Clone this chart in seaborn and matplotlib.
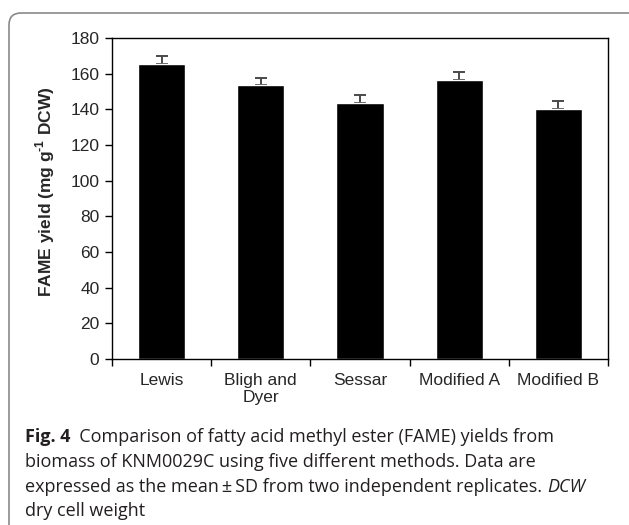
import numpy as np
import pandas as pd
import matplotlib
matplotlib.use("Agg")
import matplotlib.pyplot as plt
from matplotlib.patches import FancyBboxPatch
from matplotlib.transforms import IdentityTransform
import seaborn as sns

#### Données
methods = ["Lewis", "Bligh and\nDyer", "Sessar", "Modified A", "Modified B"]
fame_yield = [165.5, 153.5, 143.5, 156.5, 140.0]
fame_sd = [4.3, 4.3, 4.3, 4.5, 4.5]
y_ticks = [0, 20, 40, 60, 80, 100, 120, 140, 160, 180]

df = pd.DataFrame({"method": methods, "yield": fame_yield, "sd": fame_sd})

sns.set_style("ticks")
plt.rcParams["font.family"] = ["Liberation Sans", "DejaVu Sans"]
plt.rcParams["mathtext.fontset"] = "custom"
plt.rcParams["mathtext.rm"] = "Liberation Sans:bold"
plt.rcParams["mathtext.bf"] = "Liberation Sans:bold"

W, H = 629, 525
fig = plt.figure(figsize=(W / 100, H / 100), dpi=100)

# cadre arrondi de la figure (coupé à droite et en bas)
card = FancyBboxPatch((9, -60), 700, H - 13 + 60,
                      boxstyle="round,pad=0,rounding_size=12",
                      transform=IdentityTransform(),
                      facecolor="none", edgecolor="#8a8a8a", linewidth=1.2,
                      zorder=-1)
fig.add_artist(card)

ax = fig.add_axes([112 / W, 1 - 359 / H, (608 - 112) / W, (359 - 38) / H])
ax.set_facecolor("none")

sns.barplot(data=df, x="method", y="yield", color="black", saturation=1,
            width=0.475, errorbar=None, ax=ax, zorder=2)
ax.errorbar(np.arange(len(methods)), df["yield"],
            yerr=[np.zeros(len(methods)), df["sd"]],
            fmt="none", ecolor="#4a4a4a", elinewidth=1.4,
            capsize=4, capthick=1.4, zorder=1)

ax.set_xlim(-0.5, len(methods) - 0.5)
ax.set_ylim(0, 180)
ax.set_yticks(y_ticks)
ax.set_xticks(np.arange(-0.5, len(methods), 1), minor=True)
ax.tick_params(axis="x", which="major", length=0, pad=10, labelsize=12.5)
ax.tick_params(axis="x", which="minor", length=5, width=1, direction="out", color="black")
ax.tick_params(axis="y", length=5, width=1, direction="out", pad=4, labelsize=12.5, color="black")
for lab in ax.get_xticklabels():
    lab.set_linespacing(1.2)
for sp in ax.spines.values():
    sp.set_color("black")
    sp.set_linewidth(1)

ax.set_xlabel("")
ax.set_ylabel(r"FAME yield (mg g$^{\text{-1}}$ DCW)", fontsize=12.5, fontweight="bold")
ax.yaxis.set_label_coords(-0.11, 0.52)

#### Légende de la figure
cap_font = ["Open Sans", "DejaVu Sans"]
cap_size = 13
x0 = 25
lines_y = [437, 462, 487, 511]

fig.canvas.draw()
renderer = fig.canvas.get_renderer()

def put_pieces(pieces, y):
    x = x0
    for txt, style in pieces:
        t = fig.text(x / W, 1 - y / H, txt, fontsize=cap_size, family=cap_font,
                     fontweight="bold" if style == "b" else "normal",
                     fontstyle="italic" if style == "i" else "normal",
                     va="center", ha="left", color="#231f20")
        x = t.get_window_extent(renderer).x1

put_pieces([("Fig. 4", "b"), ("  Comparison of fatty acid methyl ester (FAME) yields from", "n")], lines_y[0])
put_pieces([("biomass of KNM0029C using five different methods. Data are", "n")], lines_y[1])
put_pieces([("expressed as the mean\u2009\u00b1\u2009SD from two independent replicates. ", "n"), ("DCW", "i")], lines_y[2])
put_pieces([("dry cell weight", "n")], lines_y[3])

fig.savefig("out.png", dpi=100)
